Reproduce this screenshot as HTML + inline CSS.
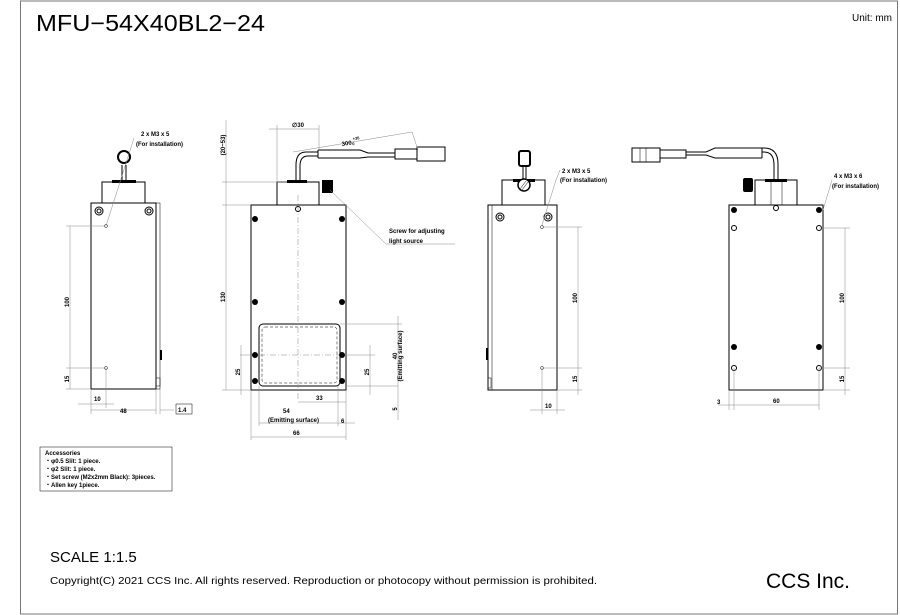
<!DOCTYPE html>
<html><head><style>
html,body{margin:0;padding:0;background:#fff;}
svg{display:block;font-family:"Liberation Sans",sans-serif;}
.l{stroke:#000;fill:none;stroke-width:1}
.t{stroke:#000;fill:none;stroke-width:0.5}
.d{stroke:#888;fill:none;stroke-width:0.5}
.c{stroke:#888;fill:none;stroke-width:0.5;stroke-dasharray:6 2 1 2}
.s{font-size:6px;font-weight:bold}
</style></head><body>
<svg width="900" height="615" viewBox="0 0 900 615">
<rect x="20.5" y="1" width="877" height="613" fill="none" stroke="#777" stroke-width="1"/>
<text x="36" y="31" font-size="23" textLength="229" lengthAdjust="spacingAndGlyphs">MFU−54X40BL2−24</text>
<text x="852" y="21" font-size="10">Unit: mm</text>

<!-- View 1 -->
<rect x="91" y="203" width="65" height="186" class="l"/>
<rect x="156" y="203" width="4" height="186" class="t"/>
<rect x="156" y="378" width="4" height="8" class="t"/>
<rect x="160" y="350" width="2" height="10" fill="#000"/>
<rect x="102" y="182" width="43" height="21" class="l"/>
<rect x="112" y="180" width="24" height="3" fill="#000"/>
<line x1="122" y1="165" x2="122" y2="181" class="l"/><line x1="126" y1="165" x2="126" y2="181" class="l"/>
<circle cx="124" cy="157" r="6" fill="none" stroke="#000" stroke-width="2"/>
<circle cx="99" cy="211" r="4" class="l"/><circle cx="99" cy="211" r="2" class="l"/>
<circle cx="149" cy="211" r="4" class="l"/><circle cx="149" cy="211" r="2" class="l"/>
<circle cx="106" cy="226" r="1.5" class="t"/><circle cx="106" cy="368" r="1.5" class="t"/>
<line x1="106" y1="226" x2="134" y2="138" class="d"/>
<text x="141" y="136" class="s">2 x M3 x 5</text>
<text x="136" y="146" class="s">(For installation)</text>
<line x1="66" y1="226" x2="106" y2="226" class="d"/><line x1="66" y1="368" x2="106" y2="368" class="d"/>
<line x1="66" y1="389" x2="91" y2="389" class="d"/>
<line x1="70" y1="226" x2="70" y2="389" class="d"/>
<text transform="translate(69,302) rotate(-90)" class="s" text-anchor="middle">100</text>
<text transform="translate(69,379) rotate(-90)" class="s" text-anchor="middle">15</text>
<line x1="91" y1="389" x2="91" y2="414" class="d"/><line x1="106" y1="368" x2="106" y2="408" class="d"/>
<line x1="156" y1="389" x2="156" y2="414" class="d"/><line x1="160" y1="389" x2="160" y2="414" class="d"/>
<line x1="78" y1="404" x2="114" y2="404" class="d"/><text x="94" y="401" class="s">10</text>
<line x1="91" y1="410" x2="156" y2="410" class="d"/><text x="120" y="413" class="s">48</text>
<line x1="160" y1="410" x2="174" y2="410" class="d"/>
<rect x="176" y="404" width="16" height="10" class="t"/><text x="178" y="412" class="s">1.4</text>

<!-- View 2 -->
<rect x="251" y="205" width="95" height="185" class="l"/>
<rect x="277" y="182" width="42" height="23" class="l"/>
<rect x="287" y="180" width="20" height="3" fill="#000"/>
<rect x="322" y="180" width="11" height="13" fill="#000"/>
<path d="M296 182 L296 165 Q296 152 306 152 L318 152" class="l"/>
<path d="M300 182 L300 166 Q300 156 308 156 L318 156" class="l"/>
<path d="M318 150 L360 150 L368 153 L395 153 M318 158 L360 158 L368 157 L395 157 M318 150 L318 158" class="l"/>
<rect x="395" y="149" width="22" height="10" class="l"/><rect x="417" y="147" width="28" height="14" class="l"/>
<rect x="259" y="324" width="81" height="62" rx="4" class="l"/>
<rect x="262" y="327" width="75" height="56" rx="3" class="t" stroke-dasharray="3 2"/>
<line x1="298" y1="195" x2="298" y2="400" class="c"/>
<line x1="259" y1="355" x2="340" y2="355" class="c"/>
<circle cx="298" cy="209" r="2.5" class="l"/>
<g fill="#000">
<circle cx="255" cy="219" r="3"/><circle cx="342" cy="219" r="3"/>
<circle cx="255" cy="302" r="3"/><circle cx="342" cy="302" r="3"/>
<circle cx="255" cy="355" r="3"/><circle cx="342" cy="355" r="3"/>
<circle cx="255" cy="381" r="3"/><circle cx="342" cy="381" r="3"/>
</g>
<line x1="330" y1="190" x2="386" y2="244" class="d"/><line x1="386" y1="244" x2="455" y2="244" class="d"/>
<text x="389" y="233" class="s">Screw for adjusting</text>
<text x="389" y="243" class="s">light source</text>
<line x1="222" y1="182" x2="287" y2="182" class="d"/><line x1="222" y1="205" x2="251" y2="205" class="d"/>
<line x1="222" y1="390" x2="251" y2="390" class="d"/>
<line x1="226" y1="120" x2="226" y2="182" class="d"/><line x1="226" y1="182" x2="226" y2="390" class="d"/>
<text transform="translate(225,145) rotate(-90)" class="s" text-anchor="middle">(20~53)</text>
<text transform="translate(225,297) rotate(-90)" class="s" text-anchor="middle">130</text>
<line x1="277" y1="125" x2="277" y2="182" class="d"/><line x1="319" y1="125" x2="319" y2="150" class="d"/>
<line x1="269" y1="129" x2="319" y2="129" class="d"/><text x="292" y="127" class="s">∅30</text>
<line x1="293" y1="152" x2="412" y2="132" class="d"/><line x1="412" y1="132" x2="418" y2="150" class="d"/>
<text x="342" y="146" class="s" transform="rotate(-9 342 146)">300 <tspan font-size="4" dy="-4">+35</tspan><tspan font-size="4" dx="-8" dy="5">0</tspan></text>
<line x1="240" y1="355" x2="251" y2="355" class="d"/>
<line x1="241" y1="345" x2="241" y2="395" class="d"/><text transform="translate(240,372) rotate(-90)" class="s" text-anchor="middle">25</text>
<line x1="346" y1="355" x2="375" y2="355" class="d"/><line x1="346" y1="386" x2="398" y2="386" class="d"/>
<line x1="370" y1="345" x2="370" y2="395" class="d"/><text transform="translate(369,372) rotate(-90)" class="s" text-anchor="middle">25</text>
<line x1="340" y1="324" x2="402" y2="324" class="d"/>
<line x1="398" y1="316" x2="398" y2="420" class="d"/>
<text transform="translate(397,356) rotate(-90)" class="s" text-anchor="middle">40</text>
<text transform="translate(402,356) rotate(-90)" class="s" text-anchor="middle">(Emitting surface)</text>
<text transform="translate(397,409) rotate(-90)" class="s" text-anchor="middle">5</text>
<line x1="346" y1="390" x2="346" y2="440" class="d"/><line x1="251" y1="390" x2="251" y2="440" class="d"/>
<line x1="259" y1="386" x2="259" y2="426" class="d"/><line x1="338" y1="386" x2="338" y2="426" class="d"/>
<line x1="298" y1="402" x2="346" y2="402" class="d"/><text x="316" y="400" class="s">33</text>
<line x1="259" y1="423" x2="355" y2="423" class="d"/>
<text x="283" y="413" class="s">54</text><text x="268" y="422" class="s">(Emitting surface)</text>
<text x="341" y="423" class="s">6</text>
<line x1="251" y1="437" x2="346" y2="437" class="d"/><text x="293" y="435" class="s">66</text>

<!-- View 3 -->
<rect x="488" y="205" width="69" height="185" class="l"/>
<line x1="492" y1="205" x2="492" y2="390" class="t"/>
<rect x="486" y="348" width="2" height="12" fill="#000"/>
<rect x="488" y="378" width="3" height="10" class="t"/>
<rect x="502" y="180" width="43" height="25" class="l"/>
<rect x="513" y="179" width="22" height="3" fill="#000"/>
<circle cx="524" cy="185" r="6" fill="#fff" stroke="#000" stroke-width="1.5"/>
<line x1="520" y1="189" x2="526" y2="181" class="t"/><line x1="522" y1="190" x2="528" y2="182" class="t"/>
<line x1="523" y1="166" x2="523" y2="179" class="l"/><line x1="526" y1="166" x2="526" y2="179" class="l"/>
<rect x="519" y="151" width="11" height="15" rx="2" fill="none" stroke="#000" stroke-width="2"/>
<circle cx="500" cy="217" r="4" class="l"/><circle cx="500" cy="217" r="2" class="l"/>
<circle cx="548" cy="217" r="4" class="l"/><circle cx="548" cy="217" r="2" class="l"/>
<circle cx="542" cy="227" r="1.5" class="t"/><circle cx="542" cy="368" r="1.5" class="t"/>
<line x1="542" y1="225" x2="556" y2="180" class="d"/><line x1="556" y1="180" x2="560" y2="170" class="d"/>
<text x="562" y="173" class="s">2 x M3 x 5</text>
<text x="560" y="182" class="s">(For installation)</text>
<line x1="542" y1="227" x2="582" y2="227" class="d"/><line x1="542" y1="368" x2="582" y2="368" class="d"/>
<line x1="557" y1="390" x2="582" y2="390" class="d"/>
<line x1="578" y1="227" x2="578" y2="395" class="d"/>
<text transform="translate(577,298) rotate(-90)" class="s" text-anchor="middle">100</text>
<text transform="translate(577,379) rotate(-90)" class="s" text-anchor="middle">15</text>
<line x1="542" y1="368" x2="542" y2="414" class="d"/><line x1="557" y1="390" x2="557" y2="414" class="d"/>
<line x1="530" y1="410" x2="565" y2="410" class="d"/><text x="545" y="408" class="s">10</text>

<!-- View 4 -->
<rect x="729" y="205" width="94" height="185" class="l"/>
<rect x="755" y="180" width="42" height="25" class="l"/>
<rect x="765" y="179" width="22" height="3" fill="#000"/>
<line x1="771" y1="182" x2="771" y2="205" class="t"/><line x1="782" y1="182" x2="782" y2="205" class="t"/>
<circle cx="776" cy="208" r="2.5" class="l"/>
<rect x="743" y="178" width="10" height="14" rx="2" fill="#000"/>
<path d="M774 180 L774 165 Q774 152 764 152 L762 152 M778 180 L778 164 Q778 148 764 148 L762 148" class="l"/>
<path d="M762 148 L715 148 L706 152 L686 152 M762 158 L715 158 L706 155 L686 155 M762 148 L762 158" class="l"/>
<rect x="660" y="150" width="26" height="8" class="l"/>
<rect x="632" y="148" width="28" height="14" class="l"/>
<line x1="640" y1="148" x2="640" y2="162" class="t"/><line x1="646" y1="148" x2="646" y2="162" class="t"/>
<g fill="#000">
<circle cx="734" cy="210" r="3"/><circle cx="819" cy="210" r="3"/>
<circle cx="734" cy="347" r="3"/><circle cx="819" cy="347" r="3"/>
</g>
<circle cx="734" cy="228" r="2.5" class="l"/><circle cx="819" cy="228" r="2.5" class="l"/>
<circle cx="734" cy="368" r="2.5" class="l"/><circle cx="819" cy="368" r="2.5" class="l"/>
<line x1="823" y1="210" x2="832" y2="180" class="d"/>
<text x="834" y="178" class="s">4 x M3 x 6</text>
<text x="832" y="188" class="s">(For installation)</text>
<line x1="819" y1="228" x2="850" y2="228" class="d"/><line x1="819" y1="368" x2="850" y2="368" class="d"/>
<line x1="823" y1="390" x2="850" y2="390" class="d"/>
<line x1="845" y1="228" x2="845" y2="395" class="d"/>
<text transform="translate(844,298) rotate(-90)" class="s" text-anchor="middle">100</text>
<text transform="translate(844,379) rotate(-90)" class="s" text-anchor="middle">15</text>
<line x1="734" y1="368" x2="734" y2="410" class="d"/><line x1="729" y1="390" x2="729" y2="410" class="d"/>
<line x1="819" y1="368" x2="819" y2="410" class="d"/>
<line x1="718" y1="405" x2="819" y2="405" class="d"/>
<text x="717" y="404" class="s">3</text><text x="773" y="403" class="s">60</text>

<!-- Accessories -->
<rect x="40" y="447" width="132" height="44" class="t" stroke="#666"/>
<text x="45" y="455" class="s" font-size="5.5">Accessories</text>
<text x="45" y="463" class="s" font-size="5.5">・φ0.5 Slit: 1 piece.</text>
<text x="45" y="471" class="s" font-size="5.5">・φ2 Slit:   1 piece.</text>
<text x="45" y="479" class="s" font-size="5.5">・Set screw (M2x2mm Black): 3pieces.</text>
<text x="45" y="487" class="s" font-size="5.5">・Allen key 1piece.</text>

<text x="50" y="562" font-size="15">SCALE 1:1.5</text>
<text x="50" y="584" font-size="10" textLength="547" lengthAdjust="spacingAndGlyphs">Copyright(C) 2021 CCS Inc. All rights reserved. Reproduction or photocopy without permission is prohibited.</text>
<text x="766" y="588" font-size="21">CCS Inc.</text>
</svg>
</body></html>
